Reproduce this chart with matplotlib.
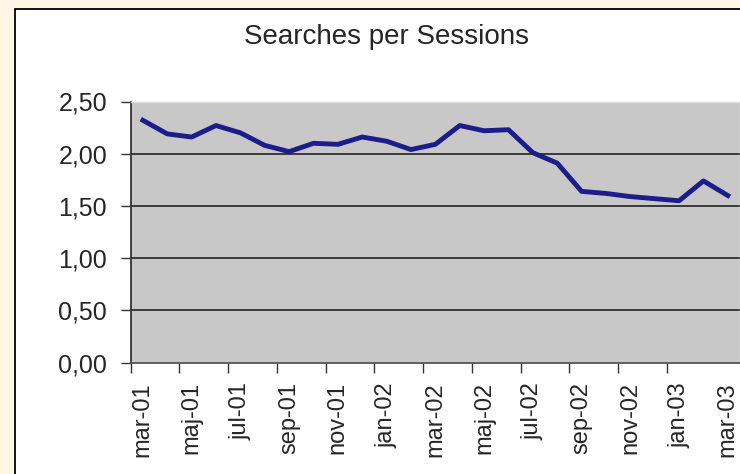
import matplotlib
matplotlib.use("Agg")
import matplotlib.pyplot as plt
from matplotlib.patches import Rectangle

plt.rcParams['font.family'] = ['Liberation Sans', 'DejaVu Sans']

MONTHS = ['mar-01', 'apr-01', 'maj-01', 'jun-01', 'jul-01', 'aug-01',
          'sep-01', 'okt-01', 'nov-01', 'dec-01', 'jan-02', 'feb-02',
          'mar-02', 'apr-02', 'maj-02', 'jun-02', 'jul-02', 'aug-02',
          'sep-02', 'okt-02', 'nov-02', 'dec-02', 'jan-03', 'feb-03',
          'mar-03']
SEARCHES_PER_SESSION = [2.32, 2.19, 2.16, 2.27, 2.20, 2.08, 2.02, 2.10,
                        2.09, 2.16, 2.12, 2.04, 2.09, 2.27, 2.22, 2.23,
                        2.01, 1.91, 1.64, 1.62, 1.59, 1.57, 1.55, 1.74,
                        1.60]
Y_TICKS = [0.0, 0.5, 1.0, 1.5, 2.0, 2.5]

TEXT = '#262626'


def main():
    fig = plt.figure(figsize=(7.4, 4.74), dpi=100)
    fig.patch.set_facecolor('#fff6e6')

    # white chart frame (right/bottom edges fall outside the picture)
    frame = Rectangle((15 / 740, -0.05), 1.0, 1 - 9 / 474 + 0.05,
                      transform=fig.transFigure, facecolor='white',
                      edgecolor='black', linewidth=1.3, zorder=-5)
    fig.patches.append(frame)

    ax = fig.add_axes([130.7 / 740, 1 - 362.7 / 474,
                       609.3 / 740, 261.2 / 474])
    ax.set_zorder(2)
    ax.set_facecolor('#c8c8c8')

    x = list(range(len(MONTHS)))
    ax.plot(x, SEARCHES_PER_SESSION, color='#1c1c8a', linewidth=3.5,
            solid_joinstyle='round', zorder=3)

    ax.set_xlim(-0.5, len(MONTHS) - 0.5)
    ax.set_ylim(0, 2.5)

    # y axis
    ax.set_yticks(Y_TICKS)
    ax.set_yticklabels([f"{v:.2f}".replace('.', ',') for v in Y_TICKS])
    for v in Y_TICKS[1:-1]:
        ax.axhline(v, color='#3a3a3a', linewidth=1.4, zorder=1)

    # x axis: ticks on category boundaries, labels on every other month
    ax.set_xticks([i - 0.5 for i in range(0, len(MONTHS) - 1, 2)])
    ax.set_xticklabels([])
    ax.set_xticks(x[::2], minor=True)
    ax.set_xticklabels(MONTHS[::2], minor=True, rotation=90)
    ax.tick_params(axis='x', which='minor', length=0, pad=14,
                   labelsize=17, labelcolor=TEXT)
    ax.tick_params(axis='x', which='major', length=7, width=1,
                   color='#333333')
    ax.tick_params(axis='y', length=7, width=1, color='#333333',
                   pad=10, labelsize=18, labelcolor=TEXT)

    for side in ['top', 'right']:
        ax.spines[side].set_color('#e0e0e0')
        ax.spines[side].set_linewidth(1.0)
    ax.spines['left'].set_color('#333333')
    ax.spines['bottom'].set_color('#555555')
    ax.spines['left'].set_linewidth(1.3)
    ax.spines['bottom'].set_linewidth(1.3)

    fig.text(387 / 740, 1 - 37 / 474, 'Searches per Sessions',
             ha='center', va='center', fontsize=20, color=TEXT)

    fig.savefig('out.png', dpi=100, facecolor=fig.get_facecolor())


if __name__ == '__main__':
    main()
